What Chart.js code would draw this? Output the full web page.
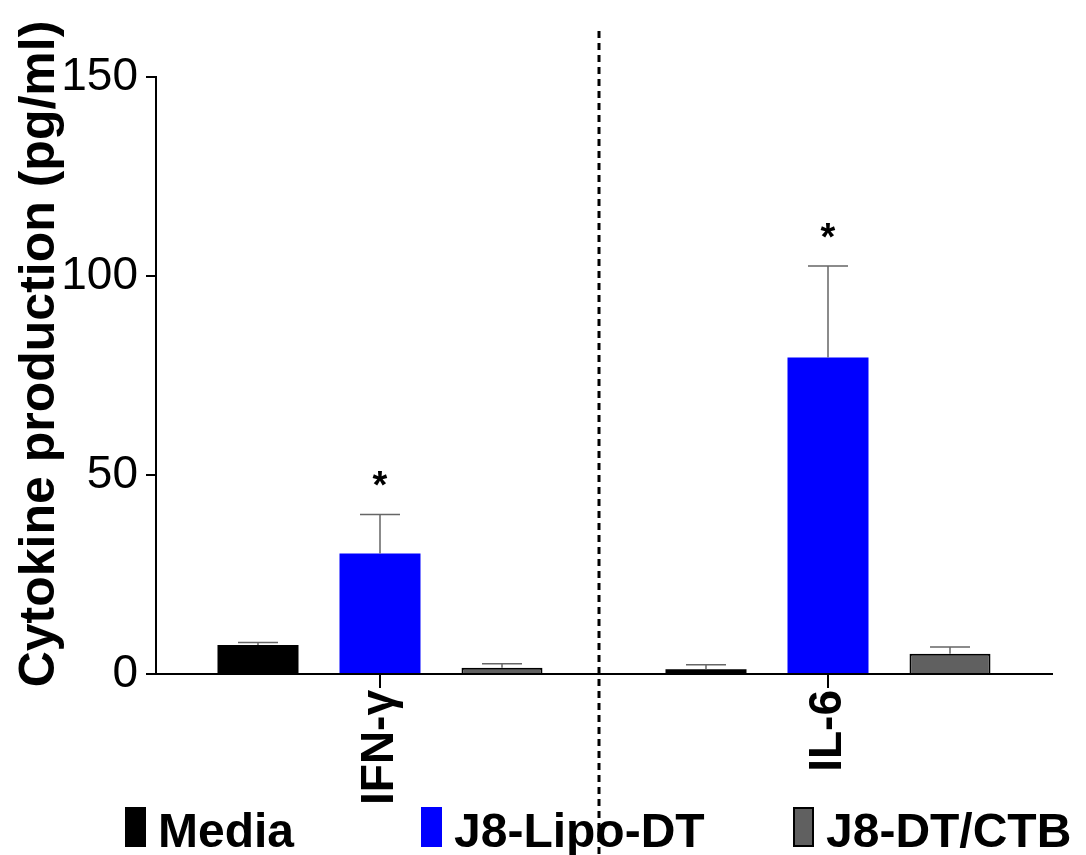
<!DOCTYPE html>
<html>
<head>
<meta charset="utf-8">
<title>Cytokine production</title>
<script src="https://cdn.jsdelivr.net/npm/chart.js@4.4.0/dist/chart.umd.min.js"></script>
<style>
  html, body { margin: 0; padding: 0; background: #fff; }
  #wrap { width: 1086px; height: 855px; }
</style>
</head>
<body>
<div id="wrap"><canvas id="cytokineChart" width="1086" height="855"></canvas></div>
<script>
// --- data ---
const categories = ['IFN-\u03B3', 'IL-6'];
const seriesNames = ['Media', 'J8-Lipo-DT', 'J8-DT/CTB'];

const mediaValues = [7.3, 1.2];
const mediaErrors = [0.6, 1.1];
const lipoValues = [30.3, 79.5];
const lipoErrors = [9.8, 23.0];
const ctbValues = [1.6, 5.1];
const ctbErrors = [1.0, 1.7];

// significance marks for the J8-Lipo-DT bars
const lipoMarks = ['*', '*'];

const yTicks = [0, 50, 100, 150];

const FONT = '"Liberation Sans", Arial, Helvetica, sans-serif';

document.addEventListener('DOMContentLoaded', function() {

    const ctx = document.getElementById('cytokineChart');

    // error bars (upper only) + asterisks
    const errorBarPlugin = {
        id: 'errorBars',
        afterDatasetsDraw(chart) {
            const c = chart.ctx;
            const yScale = chart.scales.y;
            chart.data.datasets.forEach((ds, i) => {
                const meta = chart.getDatasetMeta(i);
                meta.data.forEach((bar, j) => {
                    const top = yScale.getPixelForValue(ds.data[j] + ds.errors[j]);
                    c.save();
                    c.strokeStyle = '#666';
                    c.lineWidth = 1.5;
                    c.beginPath();
                    c.moveTo(bar.x, bar.y);
                    c.lineTo(bar.x, top);
                    c.moveTo(bar.x - 20, top);
                    c.lineTo(bar.x + 20, top);
                    c.stroke();
                    if (ds.marks && ds.marks[j]) {
                        c.fillStyle = '#000';
                        c.font = 'bold 38px ' + FONT;
                        c.textAlign = 'center';
                        c.textBaseline = 'alphabetic';
                        c.fillText(ds.marks[j], bar.x, top - 16);
                    }
                    c.restore();
                });
            });
        }
    };

    // dashed divider, y title, legend
    const decorPlugin = {
        id: 'decor',
        afterDraw(chart) {
            const c = chart.ctx;
            const xScale = chart.scales.x;
            const midX = (xScale.getPixelForValue(0) + xScale.getPixelForValue(1)) / 2 - 5;

            c.save();
            c.strokeStyle = '#000';
            c.lineWidth = 3;
            c.setLineDash([7, 5]);
            c.beginPath();
            c.moveTo(midX, 31);
            c.lineTo(midX, 855);
            c.stroke();
            c.restore();

            // y axis title
            c.save();
            c.translate(40, 354);
            c.rotate(-Math.PI / 2);
            c.fillStyle = '#000';
            c.font = 'bold 50px ' + FONT;
            c.textAlign = 'center';
            c.textBaseline = 'middle';
            c.fillText('Cytokine production (pg/ml)', 0, 0);
            c.restore();

            // legend
            const legendX = [125, 421, 793];
            c.save();
            chart.data.datasets.forEach((ds, i) => {
                const x = legendX[i];
                c.fillStyle = ds.backgroundColor;
                c.fillRect(x, 807, 21, 40);
                if (ds.borderWidth) {
                    c.strokeStyle = '#000';
                    c.lineWidth = 2;
                    c.strokeRect(x + 1, 808, 19, 38);
                }
                c.fillStyle = '#000';
                c.font = 'bold 48px ' + FONT;
                c.textAlign = 'left';
                c.textBaseline = 'alphabetic';
                c.fillText(ds.label, x + 33, 847);
            });
            c.restore();
        }
    };

    new Chart(ctx, {
        type: 'bar',
        data: {
            labels: categories,
            datasets: [
                { label: seriesNames[0], data: mediaValues, errors: mediaErrors,
                  backgroundColor: '#000000', borderWidth: 0 },
                { label: seriesNames[1], data: lipoValues, errors: lipoErrors, marks: lipoMarks,
                  backgroundColor: '#0000ff', borderWidth: 0 },
                { label: seriesNames[2], data: ctbValues, errors: ctbErrors,
                  backgroundColor: '#606060', borderColor: '#000000', borderWidth: 2 }
            ]
        },
        options: {
            responsive: false,
            animation: false,
            layout: { padding: { left: 0, right: 34, top: 77, bottom: 0 } },
            datasets: {
                bar: { categoryPercentage: 0.817, barPercentage: 0.664 }
            },
            plugins: {
                legend: { display: false },
                tooltip: { enabled: false }
            },
            scales: {
                x: {
                    grid: { display: true, drawOnChartArea: false, offset: false,
                            color: '#000', lineWidth: 2, tickLength: 14 },
                    border: { display: true, color: '#000', width: 2 },
                    ticks: {
                        color: '#000', font: { family: FONT, size: 46, weight: 'bold' },
                        minRotation: 90, maxRotation: 90, padding: 2, autoSkip: false
                    },
                    afterFit(scale) { scale.height = 181; }
                },
                y: {
                    min: 0, max: 150,
                    afterBuildTicks(scale) { scale.ticks = yTicks.map(v => ({ value: v })); },
                    grid: { display: true, drawOnChartArea: false,
                            color: '#000', lineWidth: 2, tickLength: 10 },
                    border: { display: true, color: '#000', width: 2 },
                    ticks: {
                        color: '#000', font: { family: FONT, size: 46 }, padding: 8
                    },
                    afterFit(scale) { scale.width = 156; }
                }
            }
        },
        plugins: [errorBarPlugin, decorPlugin]
    });
});
</script>
</body>
</html>
